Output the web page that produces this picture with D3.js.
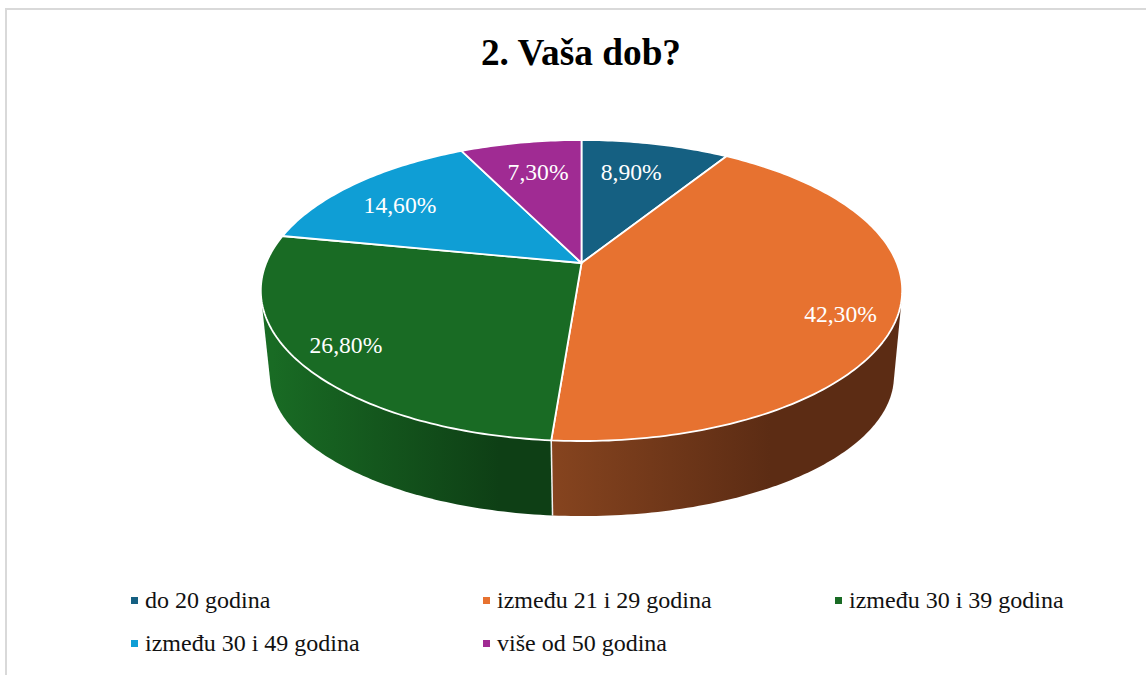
<!DOCTYPE html>
<html lang="en">
    <head>
        <meta charset="utf-8">
        <title>2. Vaša dob?</title>
        <script src="https://cdn.jsdelivr.net/npm/d3@7"></script>
        <style>
          html, body { margin: 0; padding: 0; background: #fff; overflow: hidden; }
          svg { display: block; }
          text { font-family: "Liberation Serif", serif; }
          .title { font-size: 37.3px; font-weight: bold; text-anchor: middle; fill: #000; }
          .label { font-size: 23.6px; text-anchor: middle; fill: #fff; }
          .legend-text { font-size: 24px; fill: #111; }
        </style>
    </head>
    <body>
        <script>
            // Data
            var categories = ["do 20 godina", "između 21 i 29 godina", "između 30 i 39 godina", "između 30 i 49 godina", "više od 50 godina"];
            var values = [8.9, 42.3, 26.8, 14.6, 7.3];
            var valueLabels = ["8,90%", "42,30%", "26,80%", "14,60%", "7,30%"];

            // Colours: top face, then the wall gradient stops
            var colors = ["#156082", "#E77230", "#196B24", "#0F9ED5", "#A02B93"];
            var wallLight = ["#0d3a4e", "#86441f", "#196B24", "#0a5f80", "#601a58"];
            var wallDark = ["#0d3a4e", "#5c2c14", "#0e3f15", "#0a5f80", "#601a58"];

            var w = 1146;
            var h = 675;

            var svg = d3.select("body").append("svg")
            .attr("width", w)
            .attr("height", h);

            // Frame (only top and left show in the crop)
            svg.append("path")
            .attr("d", "M6,675V9H1146")
            .attr("fill", "none")
            .attr("stroke", "#d9d9d9")
            .attr("stroke-width", 2);

            svg.append("text")
            .attr("class", "title")
            .attr("x", 581)
            .attr("y", 65)
            .text("2. Vaša dob?");

            // Perspective discs: top face and the smaller bottom face
            var topDisc = {cx: 581.5, cy: 263, a: 315.3, b: 145.5};
            var bottomDisc = {cx: 582, cy: 350.4, a: 306.7, b: 135.4};
            var persp = 0.1827;

            function project(disc, angle, r) {
              var u = r * Math.sin(angle);
              var v = r * Math.cos(angle);
              var k = 1 + persp * v;
              return [disc.cx + disc.a * u / k, disc.cy - disc.b * v / k];
            }

            function arcPoints(disc, d) {
              var n = Math.ceil((d.endAngle - d.startAngle) * 60);
              return d3.range(n + 1).map(function(i) {
                return project(disc, d.startAngle + (d.endAngle - d.startAngle) * i / n, 1);
              });
            }

            var pie = d3.pie().sort(null).value(function(d) { return d; });
            var slices = pie(values);
            var line = d3.line().curve(d3.curveLinearClosed);

            // Wall gradients run left to right across the chart
            var defs = svg.append("defs");
            var wallRange = [[551, 770], [551, 770], [272, 500], [272, 500], [272, 500]];
            slices.forEach(function(d, i) {
              var g = defs.append("linearGradient")
              .attr("id", "wall" + i)
              .attr("gradientUnits", "userSpaceOnUse")
              .attr("x1", wallRange[i][0])
              .attr("x2", wallRange[i][1])
              .attr("y1", 0)
              .attr("y2", 0);
              g.append("stop").attr("offset", 0).attr("stop-color", wallLight[i]);
              g.append("stop").attr("offset", 1).attr("stop-color", wallDark[i]);
            });

            // Walls first, the top face covers the hidden part of each hull
            svg.append("g")
            .selectAll("path")
            .data(slices)
            .enter()
            .append("path")
            .attr("d", function(d) {
              return line(d3.polygonHull(arcPoints(topDisc, d).concat(arcPoints(bottomDisc, d))));
            })
            .attr("fill", function(d, i) { return "url(#wall" + i + ")"; });

            // White seam where the two visible walls meet
            var seam = slices[1].endAngle;
            svg.append("line")
            .attr("x1", project(topDisc, seam, 1)[0])
            .attr("y1", project(topDisc, seam, 1)[1])
            .attr("x2", project(bottomDisc, seam, 1)[0])
            .attr("y2", project(bottomDisc, seam, 1)[1])
            .attr("stroke", "#f2f2f2")
            .attr("stroke-width", 1.5);

            // Top face
            svg.append("g")
            .selectAll("path")
            .data(slices)
            .enter()
            .append("path")
            .attr("d", function(d) {
              return line([[topDisc.cx, topDisc.cy]].concat(arcPoints(topDisc, d)));
            })
            .attr("fill", function(d, i) { return colors[i]; })
            .attr("stroke", "#fff")
            .attr("stroke-width", 1.8)
            .attr("stroke-linejoin", "round");

            // Labels: radius on the disc and a small angle shift per slice
            var labelRadius = [0.72, 0.84, 0.85, 0.75, 0.72];
            var labelShift = [-0.03, 0.087, 0, -0.055, 0.012];

            svg.append("g")
            .selectAll("text")
            .data(slices)
            .enter()
            .append("text")
            .attr("class", "label")
            .each(function(d, i) {
              var p = project(topDisc, (d.startAngle + d.endAngle) / 2 + labelShift[i], labelRadius[i]);
              d3.select(this).attr("x", p[0]).attr("y", p[1] + 7.5);
            })
            .text(function(d, i) { return valueLabels[i]; });

            // Legend, three columns
            var legendX = d3.scalePoint().domain([0, 1, 2]).range([131, 835]);
            var legendY = d3.scalePoint().domain([0, 1]).range([601, 644]);

            var legend = svg.append("g")
            .selectAll("g")
            .data(categories)
            .enter()
            .append("g")
            .attr("transform", function(d, i) {
              return "translate(" + legendX(i % 3) + "," + legendY(Math.floor(i / 3)) + ")";
            });

            legend.append("rect")
            .attr("x", 0)
            .attr("y", -4)
            .attr("width", 7)
            .attr("height", 7)
            .attr("fill", function(d, i) { return colors[i]; });

            legend.append("text")
            .attr("class", "legend-text")
            .attr("x", 14)
            .attr("y", 7)
            .text(function(d) { return d; });
        </script>
    </body>
</html>
